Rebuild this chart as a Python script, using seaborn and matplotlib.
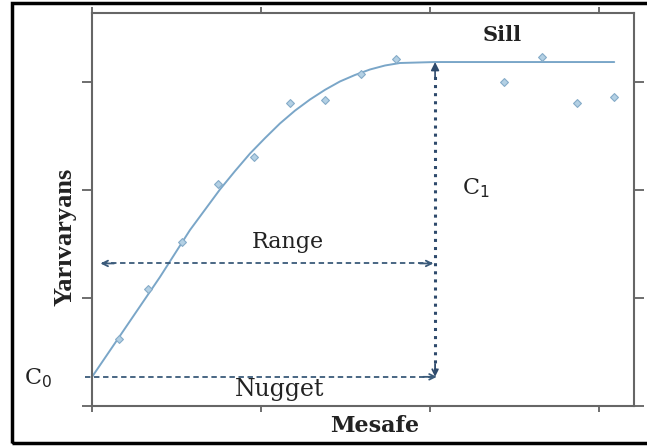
import numpy as np
import pandas as pd
import matplotlib
matplotlib.use("Agg")
import matplotlib.pyplot as plt
from matplotlib.patches import Rectangle
import seaborn as sns

# Model curve
curve_x = [0.0, 0.225, 0.402, 0.580, 0.757, 0.846, 0.935, 1.024, 1.112, 1.201, 1.290,
           1.379, 1.467, 1.556, 1.645, 1.734, 1.822, 2.03, 3.09]
curve_y = [0.269, 0.787, 1.194, 1.630, 2.005, 2.175, 2.338, 2.481, 2.616, 2.735, 2.838,
           2.928, 3.005, 3.065, 3.116, 3.153, 3.176, 3.185, 3.185]

# Experimental semivariogram points
pts_x = [0.16, 0.33, 0.53, 0.745, 0.96, 1.17, 1.38, 1.59, 1.80, 2.44, 2.66, 2.87, 3.09]
pts_y = [0.62, 1.08, 1.52, 2.06, 2.31, 2.81, 2.83, 3.07, 3.21, 3.00, 3.23, 2.81, 2.86]

nugget = 0.27
sill = 3.185
range_x = 2.03
range_y = 1.32

x_ticks = [0, 1, 2, 3]
y_ticks = [0, 1, 2, 3]

curve_df = pd.DataFrame({"x": curve_x, "y": curve_y})
pts_df = pd.DataFrame({"x": pts_x, "y": pts_y})

sns.set_style("ticks")
plt.rcParams['font.family'] = ['DejaVu Serif']

fig = plt.figure(figsize=(6.47, 4.48), dpi=100)
ax = fig.add_axes([92 / 647, 1 - 406 / 448, (634 - 92) / 647, (406 - 13) / 448])

line_col = "#7aa6c8"
arr_col = "#3a5a7a"

sns.lineplot(data=curve_df, x="x", y="y", ax=ax, color=line_col, lw=1.4, sort=False)
sns.scatterplot(data=pts_df, x="x", y="y", ax=ax, marker="D", s=16,
                color="#b3d0e4", edgecolor="#85abc8", linewidth=0.8, zorder=3)

# Range arrow (dashed, open heads both ends)
ax.plot([0.06, range_x - 0.02], [range_y, range_y], ls="--", color=arr_col, lw=1.3, dashes=(3, 2))
ax.annotate("", xy=(0.05, range_y), xytext=(0.13, range_y),
            arrowprops=dict(arrowstyle="->", color=arr_col, lw=1.3, shrinkA=0, shrinkB=0))
ax.annotate("", xy=(range_x - 0.01, range_y), xytext=(range_x - 0.09, range_y),
            arrowprops=dict(arrowstyle="->", color=arr_col, lw=1.3, shrinkA=0, shrinkB=0))

# Nugget line (dashed, head at right)
ax.plot([-0.04, range_x - 0.02], [nugget, nugget], ls="--", color=arr_col, lw=1.3,
        dashes=(3, 2), clip_on=False)
ax.annotate("", xy=(range_x + 0.01, nugget), xytext=(range_x - 0.07, nugget),
            arrowprops=dict(arrowstyle="->", color=arr_col, lw=1.3, shrinkA=0, shrinkB=0))

# C1 arrow (dotted, filled head at top, open at bottom)
ax.plot([range_x, range_x], [nugget + 0.05, sill - 0.1], ls=":", color="#2e4a6c", lw=2.2)
ax.annotate("", xy=(range_x, sill), xytext=(range_x, sill - 0.15),
            arrowprops=dict(arrowstyle="-|>", color="#2e4a6c", lw=1.2, shrinkA=0, shrinkB=0,
                            mutation_scale=12))
ax.annotate("", xy=(range_x, nugget), xytext=(range_x, nugget + 0.12),
            arrowprops=dict(arrowstyle="->", color="#2e4a6c", lw=1.3, shrinkA=0, shrinkB=0))

# Labels
txt = dict(color="#222222", ha="center", va="center")
ax.text(2.426, 3.435, "Sill", fontsize=15, fontweight="bold", **txt)
ax.text(1.16, 1.52, "Range", fontsize=16, **txt)
ax.text(1.11, 0.157, "Nugget", fontsize=17, **txt)
ax.text(2.27, 2.02, r"C$_1$", fontsize=16, **txt)
ax.text(-0.32, 0.26, r"C$_0$", fontsize=16, clip_on=False, **txt)
ax.text(1.675, -0.185, "Mesafe", fontsize=16, fontweight="bold", clip_on=False, **txt)
ax.text(-0.16, 1.57, "Yarıvaryans", fontsize=19, fontweight="bold", rotation=90,
        clip_on=False, family="Liberation Serif", **txt)

ax.set_xlim(0, 3.207)
ax.set_ylim(0, 3.639)
ax.set_xticks(x_ticks)
ax.set_yticks(y_ticks)
ax.set_xticklabels([])
ax.set_yticklabels([])
ax.set_xlabel("")
ax.set_ylabel("")
ax.tick_params(axis="x", direction="out", length=4, width=1.2, color="#555555",
               top=True, bottom=True)
ax.tick_params(axis="y", direction="out", length=7, width=1.2, color="#555555",
               left=True, right=True)
for sp in ax.spines.values():
    sp.set_color("#666666")
    sp.set_linewidth(1.5)

# Outer frame around the picture (right edge falls outside the image)
fig.patches.append(Rectangle((12 / 647, 1 - 443 / 448), 1.2, (443 - 3) / 448,
                             transform=fig.transFigure, fill=False, ec="black", lw=2.5))

fig.savefig("out.png", dpi=100)
